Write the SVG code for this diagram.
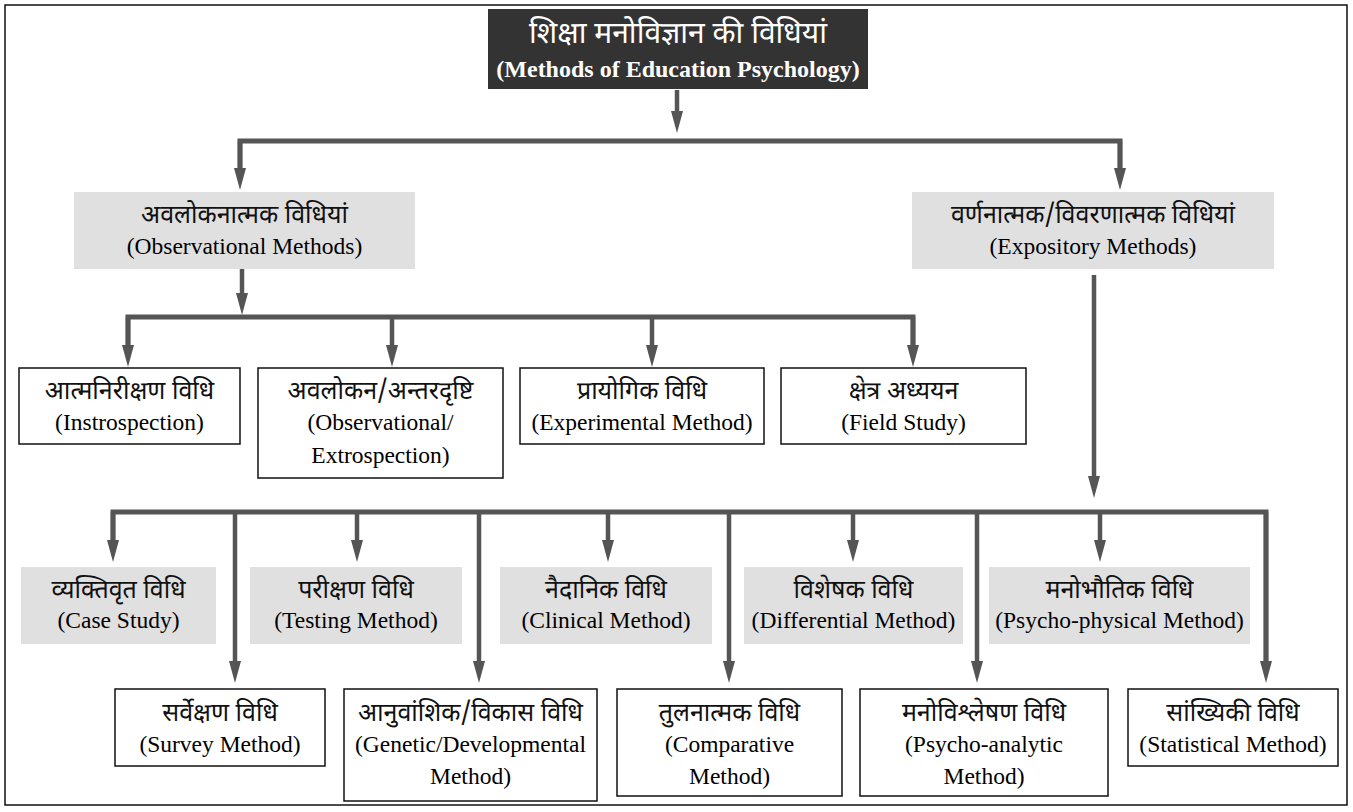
<svg xmlns="http://www.w3.org/2000/svg" width="1353" height="812" viewBox="0 0 1353 812">
<style>
  .hi { font-family: "Noto Sans Devanagari", "Lohit Devanagari", "Noto Sans", sans-serif; font-size: 25px; fill: #111; text-anchor: middle; }
  .en { font-family: "Liberation Serif", "Times New Roman", serif; font-size: 23.5px; fill: #000; text-anchor: middle; }
  .gray { fill: #e0e0e0; stroke: none; }
  .white { fill: #ffffff; stroke: #111; stroke-width: 1.5; }
  .conn { stroke: #555; stroke-width: 5; fill: none; }
  .arr { stroke: #555; stroke-width: 4.5; fill: none; marker-end: url(#ah); }
</style>
<defs>
  <marker id="ah" viewBox="0 0 22 12" refX="0" refY="6" markerWidth="22" markerHeight="12" markerUnits="userSpaceOnUse" orient="auto">
    <path d="M0,0 L22,6 L0,12 z" fill="#555"/>
  </marker>
</defs>
<rect x="0" y="0" width="1353" height="812" fill="#fff"/>
<rect x="5" y="5" width="1342" height="800" fill="none" stroke="#111" stroke-width="1.5"/>

<g id="connectors">
  <line class="arr" x1="677" y1="90" x2="677" y2="111"/>
  <polyline class="conn" points="240,168 240,141 1120,141 1120,168"/>
  <line class="arr" x1="240" y1="141" x2="240" y2="168"/>
  <line class="arr" x1="1120" y1="141" x2="1120" y2="168"/>

  <line class="arr" x1="242" y1="269" x2="242" y2="293"/>
  <polyline class="conn" points="128,345 128,317 913,317 913,345"/>
  <line class="arr" x1="128" y1="317" x2="128" y2="345"/>
  <line class="arr" x1="392" y1="317" x2="392" y2="345"/>
  <line class="arr" x1="652" y1="317" x2="652" y2="345"/>
  <line class="arr" x1="913" y1="317" x2="913" y2="345"/>

  <line class="arr" x1="1094" y1="275" x2="1094" y2="476"/>
  <polyline class="conn" points="113,540 113,512 1266,512 1266,661"/>
  <line class="arr" x1="113" y1="512" x2="113" y2="540"/>
  <line class="arr" x1="235" y1="512" x2="235" y2="661"/>
  <line class="arr" x1="357" y1="512" x2="357" y2="540"/>
  <line class="arr" x1="479" y1="512" x2="479" y2="661"/>
  <line class="arr" x1="608" y1="512" x2="608" y2="540"/>
  <line class="arr" x1="729" y1="512" x2="729" y2="661"/>
  <line class="arr" x1="853" y1="512" x2="853" y2="540"/>
  <line class="arr" x1="977" y1="512" x2="977" y2="661"/>
  <line class="arr" x1="1100" y1="512" x2="1100" y2="540"/>
  <line class="arr" x1="1266" y1="512" x2="1266" y2="661"/>
</g>

<g id="title">
  <rect x="488" y="9" width="380" height="80" fill="#333"/>
  <text x="678" y="43" class="hi" style="fill:#fff;font-size:30px">शिक्षा मनोविज्ञान की विधियां</text>
  <text x="678" y="77" class="en" style="fill:#fff;font-weight:bold;font-size:24px">(Methods of Education Psychology)</text>
</g>

<g id="observational">
  <rect class="gray" x="74" y="192" width="341" height="77"/>
  <text x="244.5" y="223" class="hi">अवलोकनात्मक विधियां</text>
  <text x="244.5" y="254" class="en">(Observational Methods)</text>
</g>
<g id="expository">
  <rect class="gray" x="912" y="192" width="362" height="77"/>
  <text x="1093" y="223" class="hi">वर्णनात्मक/विवरणात्मक विधियां</text>
  <text x="1093" y="254" class="en">(Expository Methods)</text>
</g>

<g id="introspection">
  <rect class="white" x="19" y="368" width="221" height="76"/>
  <text x="129.5" y="399" class="hi">आत्मनिरीक्षण विधि</text>
  <text x="129.5" y="430" class="en">(Instrospection)</text>
</g>
<g id="extrospection">
  <rect class="white" x="258" y="368" width="245" height="110"/>
  <text x="380.5" y="399" class="hi">अवलोकन/अन्तरदृष्टि</text>
  <text x="380.5" y="430" class="en">(Observational/</text>
  <text x="380.5" y="463" class="en">Extrospection)</text>
</g>
<g id="experimental">
  <rect class="white" x="520" y="368" width="244" height="76"/>
  <text x="642" y="399" class="hi">प्रायोगिक विधि</text>
  <text x="642" y="430" class="en">(Experimental Method)</text>
</g>
<g id="field">
  <rect class="white" x="781" y="368" width="245" height="76"/>
  <text x="903.5" y="399" class="hi">क्षेत्र अध्ययन</text>
  <text x="903.5" y="430" class="en">(Field Study)</text>
</g>

<g id="case">
  <rect class="gray" x="21" y="567" width="195" height="77"/>
  <text x="118.5" y="598" class="hi">व्यक्तिवृत विधि</text>
  <text x="118.5" y="628" class="en">(Case Study)</text>
</g>
<g id="testing">
  <rect class="gray" x="250" y="567" width="212" height="77"/>
  <text x="356" y="598" class="hi">परीक्षण विधि</text>
  <text x="356" y="628" class="en">(Testing Method)</text>
</g>
<g id="clinical">
  <rect class="gray" x="500" y="567" width="212" height="77"/>
  <text x="606" y="598" class="hi">नैदानिक विधि</text>
  <text x="606" y="628" class="en">(Clinical Method)</text>
</g>
<g id="differential">
  <rect class="gray" x="744" y="567" width="219" height="77"/>
  <text x="853.5" y="598" class="hi">विशेषक विधि</text>
  <text x="853.5" y="628" class="en">(Differential Method)</text>
</g>
<g id="psychophysical">
  <rect class="gray" x="989" y="567" width="261" height="77"/>
  <text x="1119.5" y="598" class="hi">मनोभौतिक विधि</text>
  <text x="1119.5" y="628" class="en">(Psycho-physical Method)</text>
</g>

<g id="survey">
  <rect class="white" x="115" y="689" width="210" height="77"/>
  <text x="220" y="721" class="hi">सर्वेक्षण विधि</text>
  <text x="220" y="752" class="en">(Survey Method)</text>
</g>
<g id="genetic">
  <rect class="white" x="344" y="689" width="253" height="112"/>
  <text x="470.5" y="721" class="hi">आनुवांशिक/विकास विधि</text>
  <text x="470.5" y="752" class="en">(Genetic/Developmental</text>
  <text x="470.5" y="784" class="en">Method)</text>
</g>
<g id="comparative">
  <rect class="white" x="617" y="689" width="225" height="107"/>
  <text x="729.5" y="721" class="hi">तुलनात्मक विधि</text>
  <text x="729.5" y="752" class="en">(Comparative</text>
  <text x="729.5" y="784" class="en">Method)</text>
</g>
<g id="psychoanalytic">
  <rect class="white" x="860" y="689" width="248" height="107"/>
  <text x="984" y="721" class="hi">मनोविश्लेषण विधि</text>
  <text x="984" y="752" class="en">(Psycho-analytic</text>
  <text x="984" y="784" class="en">Method)</text>
</g>
<g id="statistical">
  <rect class="white" x="1128" y="689" width="210" height="77"/>
  <text x="1233" y="721" class="hi">सांख्यिकी विधि</text>
  <text x="1233" y="752" class="en">(Statistical Method)</text>
</g>
</svg>
